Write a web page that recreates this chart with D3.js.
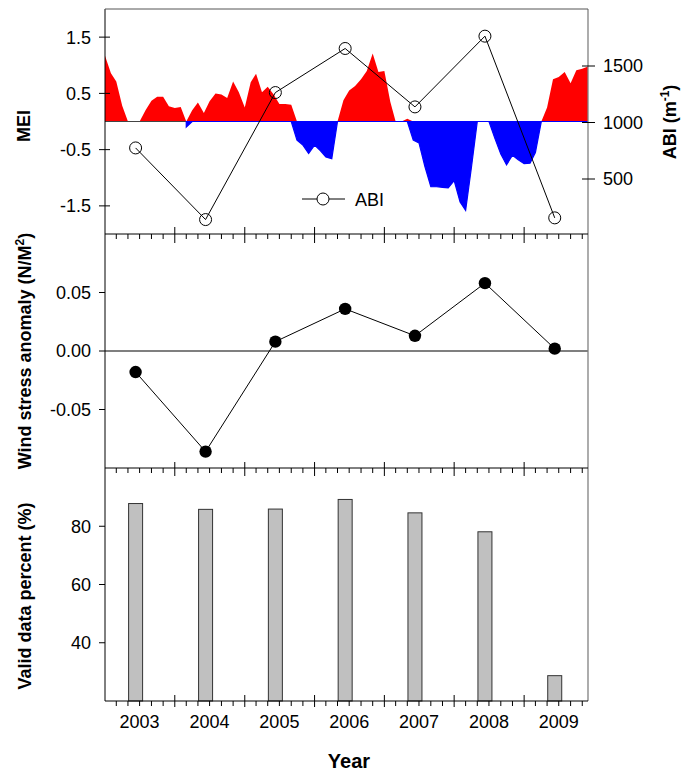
<!DOCTYPE html>
<html>
<head>
<meta charset="utf-8">
<script src="https://cdn.jsdelivr.net/npm/d3@7"></script>
<style>
  body { margin: 0; background: #fff; }
  text { font-family: Arial, "Liberation Sans", sans-serif; }
</style>
</head>
<body>
<svg id="chart" width="683" height="776"></svg>
<script>
// ---- data ----
const years = [2003, 2004, 2005, 2006, 2007, 2008, 2009];

// monthly MEI, Jan 2003 .. Dec 2009
const meiValues = [
  1.17, 0.86, 0.71, 0.28, 0, 0, 0, 0.2, 0.37, 0.44, 0.44, 0.27,
  0.24, 0.26, -0.1, 0.2, 0.34, 0.15, 0.36, 0.50, 0.48, 0.42, 0.71, 0.52,
  0.25, 0.70, 0.85, 0.52, 0.62, 0.48, 0.31, 0.31, 0.30, -0.33, -0.42, -0.57,
  -0.42, -0.52, -0.63, -0.66, 0, 0.38, 0.55, 0.63, 0.75, 0.90, 1.21, 0.88,
  0.90, 0.35, 0, 0, 0.05, -0.33, -0.38, -0.80, -1.16, -1.16, -1.17, -1.18,
  -1.05, -1.43, -1.58, -0.80, 0, 0, 0, -0.30, -0.58, -0.77, -0.60, -0.68,
  -0.75, -0.74, -0.55, 0, 0.25, 0.75, 0.79, 0.88, 0.68, 0.91, 0.94, 0.98
];

const abiValues = [775, 141, 1265, 1655, 1138, 1764, 156];
const windStress = [-0.018, -0.086, 0.008, 0.036, 0.013, 0.058, 0.002];
const validPercent = [87.8, 85.8, 85.9, 89.2, 84.6, 78.1, 28.7];

const meiTicks = [1.5, 0.5, -0.5, -1.5];
const meiTickLabels = ["1.5", "0.5", "-0.5", "-1.5"];
const abiTicks = [500, 1000, 1500];
const windTicks = [0.05, 0, -0.05];
const windTickLabels = ["0.05", "0.00", "-0.05"];
const pctTicks = [40, 60, 80];

// ---- layout ----
const left = 105, right = 588;
const topP = { y0: 9, y1: 234 };
const midP = { y0: 234, y1: 468 };
const botP = { y0: 468, y1: 701 };

const svg = d3.select("#chart");

const x = d3.scaleTime()
  .domain([new Date(2003, 0, 1), new Date(2009, 11, 1)])
  .range([left, right]);

// annual values sit around early June of each year
const yearDate = (y) => new Date(y, 5, 10);

const yMEI = d3.scaleLinear().domain([-2, 2]).range([topP.y1, topP.y0]);
const yABI = d3.scaleLinear().domain([0, 2000]).range([235.5, 9.5]);
const yWind = d3.scaleLinear().domain([-0.1, 0.1]).range([midP.y1, midP.y0]);
const yPct = d3.scaleLinear().domain([20, 100]).range([botP.y1, botP.y0]);

const mei = meiValues.map((v, i) => ({ date: new Date(2003, i, 1), v }));
const firstNeg = mei.findIndex((d) => d.v < 0);

// ---- top panel: MEI areas ----
const redArea = d3.area()
  .x((d) => x(d.date))
  .y0(yMEI(0))
  .y1((d) => yMEI(Math.max(d.v, 0)));

const blueArea = d3.area()
  .x((d) => x(d.date))
  .y0(yMEI(0))
  .y1((d) => yMEI(Math.min(d.v, 0)));

svg.append("path")
  .datum(mei)
  .attr("d", redArea)
  .attr("fill", "#ff0000");

svg.append("line")
  .attr("x1", left).attr("x2", right)
  .attr("y1", yMEI(0)).attr("y2", yMEI(0))
  .attr("stroke", "#444").attr("stroke-width", 1);

svg.append("path")
  .datum(mei.slice(firstNeg))
  .attr("d", blueArea)
  .attr("fill", "#0000ff")
  .attr("stroke", "#0000ff")
  .attr("stroke-width", 1.2);

// ABI line + open circles
const abi = years.map((y, i) => ({ date: yearDate(y), v: abiValues[i] }));
svg.append("path")
  .datum(abi)
  .attr("d", d3.line().x((d) => x(d.date)).y((d) => yABI(d.v)))
  .attr("fill", "none")
  .attr("stroke", "#000")
  .attr("stroke-width", 1);

svg.append("g").selectAll("circle")
  .data(abi)
  .enter().append("circle")
  .attr("cx", (d) => x(d.date))
  .attr("cy", (d) => yABI(d.v))
  .attr("r", 6)
  .attr("fill", "none")
  .attr("stroke", "#000")
  .attr("stroke-width", 1);

// legend
const leg = svg.append("g").attr("transform", "translate(302,199)");
leg.append("line").attr("x1", 0).attr("x2", 43).attr("stroke", "#000");
leg.append("circle").attr("cx", 21).attr("r", 6)
  .attr("fill", "#fff").attr("stroke", "#000");
leg.append("text").attr("x", 53).attr("y", 6.5)
  .attr("font-size", 18).text("ABI");

// ---- middle panel: wind stress ----
svg.append("line")
  .attr("x1", left).attr("x2", right)
  .attr("y1", yWind(0)).attr("y2", yWind(0))
  .attr("stroke", "#000").attr("stroke-width", 1.2);

const wind = years.map((y, i) => ({ date: yearDate(y), v: windStress[i] }));
svg.append("path")
  .datum(wind)
  .attr("d", d3.line().x((d) => x(d.date)).y((d) => yWind(d.v)))
  .attr("fill", "none")
  .attr("stroke", "#000")
  .attr("stroke-width", 1);

svg.append("g").selectAll("circle")
  .data(wind)
  .enter().append("circle")
  .attr("cx", (d) => x(d.date))
  .attr("cy", (d) => yWind(d.v))
  .attr("r", 6.2)
  .attr("fill", "#000");

// ---- bottom panel: valid data bars ----
const barW = 14;
svg.append("g").selectAll("rect")
  .data(years.map((y, i) => ({ date: yearDate(y), v: validPercent[i] })))
  .enter().append("rect")
  .attr("x", (d) => x(d.date) - barW / 2)
  .attr("y", (d) => yPct(d.v))
  .attr("width", barW)
  .attr("height", (d) => yPct(20) - yPct(d.v))
  .attr("fill", "#c0c0c0")
  .attr("stroke", "#333")
  .attr("stroke-width", 1);

// ---- frames ----
function frame(p, topColor) {
  svg.append("line").attr("x1", left).attr("x2", left)
    .attr("y1", p.y0).attr("y2", p.y1).attr("stroke", "#000");
  svg.append("line").attr("x1", right).attr("x2", right)
    .attr("y1", p.y0).attr("y2", p.y1).attr("stroke", "#808080").attr("stroke-width", 1.3);
  svg.append("line").attr("x1", left).attr("x2", right)
    .attr("y1", p.y0).attr("y2", p.y0).attr("stroke", topColor);
}
frame(topP, "#555");
frame(midP, "#000");
frame(botP, "#000");
svg.append("line").attr("x1", left).attr("x2", right)
  .attr("y1", botP.y1).attr("y2", botP.y1).attr("stroke", "#000");

// ---- x ticks ----
const majors = d3.timeYear.range(new Date(2004, 0, 1), x.domain()[1]);
const minors = d3.timeMonth.every(2).range(x.domain()[0], x.domain()[1])
  .filter((d) => d.getMonth() !== 0 && x(d) < right - 1);

function xTicks(list, y, up, down) {
  svg.append("g").selectAll("line")
    .data(list)
    .enter().append("line")
    .attr("x1", (d) => x(d)).attr("x2", (d) => x(d))
    .attr("y1", y - up).attr("y2", y + down)
    .attr("stroke", "#000").attr("stroke-width", 1);
}
xTicks(majors, topP.y1, 7, 9);
xTicks(minors, midP.y0, 0, 5);
xTicks(majors, midP.y1, 6, 8);
xTicks(minors, botP.y0, 0, 5);
xTicks(majors, botP.y1, 6, 6);
xTicks(minors, botP.y1, 0, 5);

svg.append("g").selectAll("text")
  .data(years)
  .enter().append("text")
  .attr("x", (d) => x(new Date(d, 6, 1)))
  .attr("y", 728)
  .attr("text-anchor", "middle")
  .attr("font-size", 18)
  .text((d) => d);

// ---- y axes ----
function leftAxis(scale, ticks, labels, inside) {
  const g = svg.append("g");
  ticks.forEach((t, i) => {
    const y = scale(t);
    g.append("line").attr("x1", left - 6).attr("x2", left + inside)
      .attr("y1", y).attr("y2", y).attr("stroke", "#000");
    g.append("text").attr("x", left - 14).attr("y", y).attr("dy", "0.36em")
      .attr("text-anchor", "end").attr("font-size", 18).text(labels[i]);
  });
}
leftAxis(yMEI, meiTicks, meiTickLabels, 5);
leftAxis(yWind, windTicks, windTickLabels, 0);
leftAxis(yPct, pctTicks, pctTicks.map(String), 0);

const ra = svg.append("g");
abiTicks.forEach((t) => {
  ra.append("line").attr("x1", right - 6).attr("x2", right + 7)
    .attr("y1", yABI(t)).attr("y2", yABI(t)).attr("stroke", "#000");
  ra.append("text").attr("x", right + 15).attr("y", yABI(t)).attr("dy", "0.36em")
    .attr("font-size", 18).text(t);
});

// ---- axis titles ----
function vTitle(xPos, yPos, parts) {
  const t = svg.append("text")
    .attr("transform", `translate(${xPos},${yPos}) rotate(-90)`)
    .attr("text-anchor", "middle")
    .attr("font-size", 18)
    .attr("font-weight", "bold");
  parts.forEach((p) => {
    const s = t.append("tspan").text(p.t);
    if (p.sup) s.attr("baseline-shift", "super").attr("font-size", 12);
  });
}
vTitle(30, 126, [{ t: "MEI" }]);
vTitle(31, 351, [{ t: "Wind stress anomaly (N/M" }, { t: "2", sup: true }, { t: ")" }]);
vTitle(31, 596, [{ t: "Valid data percent (%)" }]);
vTitle(676, 122, [{ t: "ABI (m" }, { t: "-1", sup: true }, { t: ")" }]);

svg.append("text")
  .attr("x", 349).attr("y", 768)
  .attr("text-anchor", "middle")
  .attr("font-size", 20)
  .attr("font-weight", "bold")
  .text("Year");
</script>
</body>
</html>
